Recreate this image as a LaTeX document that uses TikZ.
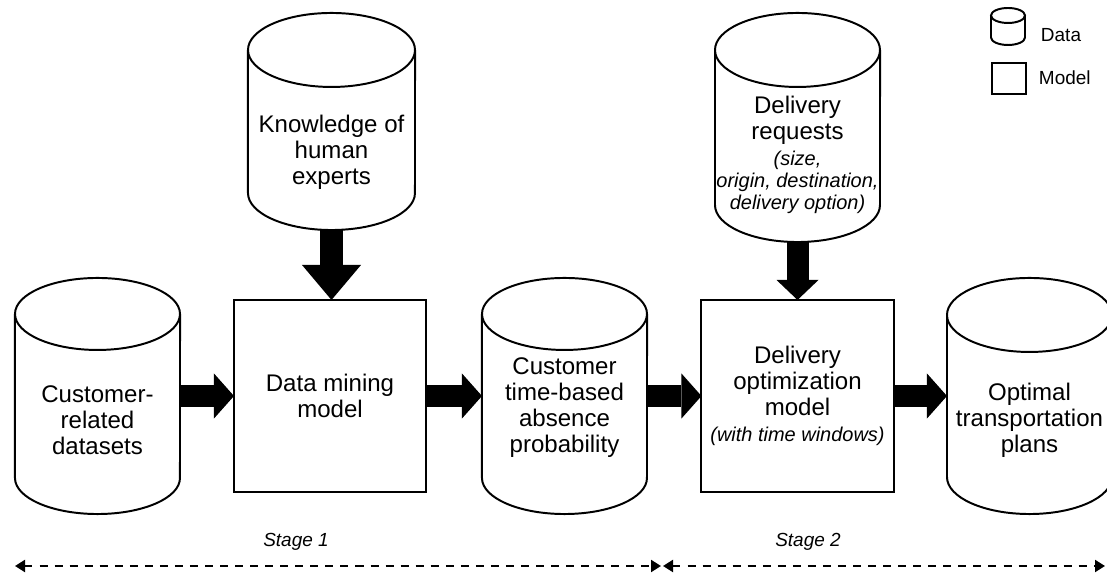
\documentclass[tikz,border=0pt]{standalone}
\usepackage{fontspec}
\setmainfont{Liberation Sans}
\usetikzlibrary{calc,arrows.meta}
\newcommand\cylfont{\fontsize{17.1}{18.5}\selectfont}
\newcommand\notefont{\itshape\fontsize{14.2}{15.6}\selectfont}
\newcommand\keyfont{\fontsize{13.5}{15}\selectfont}
\def\drawcyl(#1)(#2:#3){\draw[cylline] ($(#1.north west)+(0,-#3)$) -- ($(#1.south west)+(0,#3)$) arc (180:360:#2 and #3) -- ($(#1.north east)+(0,-#3)$); \draw[cylline] ($(#1.north)+(0,-#3)$) ellipse (#2 and #3);}
\tikzset{
	cylline/.style={line width=1.4pt},
	cylbody/.style={draw=none, inner sep=0pt, outer sep=0pt},
	modelbox/.style={draw, line width=1.4pt, inner sep=0pt, outer sep=0pt, align=center, font=\cylfont},
	txt/.style={align=center, font=\cylfont},
	keytxt/.style={anchor=west, font=\keyfont},
	fatarrow/.style={line width=0.55cm, -{Triangle[length=0.5cm, width=1.125cm, line width=0pt]}},
	stagearrow/.style={line width=1.5pt, dash pattern=on 5.7pt off 5pt, {Triangle[length=0.25cm, width=0.3cm]}-{Triangle[length=0.25cm, width=0.3cm]}}
}

\begin{document}
\begin{tikzpicture}[x=0.025cm, y=0.025cm]
			%%%%% START %%%%%
			
			\useasboundingbox (0,0) rectangle (1107,578);
			
			\node[cylbody, minimum width=4.125cm, minimum height=5.9cm] (custdata) at (97.5,182) {};
			\drawcyl(custdata)(82.5:36)
			\node[txt] (custdatatxt) at ([yshift=-0.6cm]custdata.center) {Customer-\\related\\datasets};
			
			\node[cylbody, minimum width=4.175cm, minimum height=5.425cm] (experts) at (331.5,456.5) {};
			\drawcyl(experts)(83.5:37)
			\node[txt] (expertstxt) at ([yshift=-0.78cm]experts.center) {Knowledge of\\human\\experts};
			
			\node[modelbox, minimum width=4.8cm, minimum height=4.8cm] (mining) at (330,182) {Data mining\\model};
			
			\node[cylbody, minimum width=4.125cm, minimum height=5.9cm] (absence) at (564.5,182) {};
			\drawcyl(absence)(82.5:36)
			\node[txt] (absencetxt) at ([yshift=-0.3cm]absence.center) {Customer\\time-based\\absence\\probability};
			
			\node[cylbody, minimum width=4.125cm, minimum height=5.725cm] (requests) at (797.5,450.5) {};
			\drawcyl(requests)(82.5:37)
			\node[txt] (requeststxt) at ([yshift=-0.68cm]requests.center) {Delivery\\requests\\{\notefont (size,}\\[-2.8pt]{\notefont origin, destination,}\\[-2.8pt]{\notefont delivery option)}};
			
			\node[modelbox, minimum width=4.8cm, minimum height=4.8cm] (optim) at (797.5,182) {Delivery\\optimization\\model\\{\notefont (with time windows)}};
			
			\node[cylbody, minimum width=4.125cm, minimum height=5.9cm] (plans) at (1029.5,182) {};
			\drawcyl(plans)(82.5:37)
			\node[txt] (planstxt) at ([yshift=-0.6cm]plans.center) {Optimal\\transportation\\plans};
			
			% flow
			\draw[fatarrow] (custdata.east) -- (mining.west);
			\draw[fatarrow] (mining.east) -- (absence.west);
			\draw[fatarrow] (absence.east) -- (optim.west);
			\draw[fatarrow] (optim.east) -- (plans.west);
			\draw[fatarrow, -{Triangle[length=0.875cm, width=1.475cm, line width=0pt]}] (experts.south) -- (experts.south |- mining.north);
			\draw[fatarrow, -{Triangle[length=0.5cm, width=1.05cm, line width=0pt]}] (requests.south) -- (optim.north);
			
			% legend
			\node[cylbody, minimum width=0.85cm, minimum height=0.925cm] (keycyl) at (1008,551.5) {};
			\drawcyl(keycyl)(17:7.5)
			\node[keytxt] (keydata) at (1036,543) {Data};
			\node[modelbox, minimum width=0.85cm, minimum height=0.775cm] (keybox) at (1009,499.5) {};
			\node[keytxt] (keymodel) at (1034,500) {Model};
			
			% stages
			\coordinate (s1left) at (15,12);
			\coordinate (s1right) at (661,12);
			\coordinate (s2left) at (663,12);
			\coordinate (s2right) at (1105,12);
			\draw[stagearrow] (s1left) -- (s1right);
			\draw[stagearrow] (s2left) -- (s2right);
			\node[font=\keyfont\itshape] (stage1) at (296,36) {Stage 1};
			\node[font=\keyfont\itshape] (stage2) at (808,36) {Stage 2};
			
			%%%%% END %%%%%
		\end{tikzpicture}
\end{document}
